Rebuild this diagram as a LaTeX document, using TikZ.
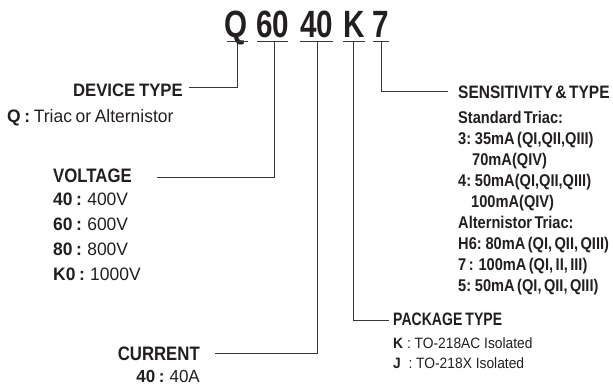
\documentclass[tikz,border=0pt]{standalone}
\usepackage{fontspec}
\setmainfont{Liberation Sans}
\newfontfamily\fA{Liberation Sans}[FakeStretch=0.93, WordSpace=0.8]
\newfontfamily\fB{Liberation Sans}[FakeStretch=0.86, WordSpace=0.6]
\newfontfamily\fC{Liberation Sans}[FakeStretch=0.78, WordSpace=0.8]
\newfontfamily\fD{Liberation Sans}[FakeStretch=0.92]
\newfontfamily\fE{Liberation Sans}[FakeStretch=0.97, WordSpace=0.75]
\definecolor{ink}{HTML}{231F20}
\begin{document}
\begin{tikzpicture}[x=1pt,y=-1pt,
  every node/.style={inner sep=0pt, text=ink},
  conn/.style={draw=ink!90, line width=0.8pt},
  ttlf/.style={font={\fC\bfseries\fontsize{38}{38}\selectfont}, anchor=base},
  bighead/.style={font={\fB\bfseries\fontsize{19.5}{19.5}\selectfont}},
  vitem/.style={font={\fE\fontsize{18}{18}\selectfont}},
  sitem/.style={font={\fB\bfseries\fontsize{17}{17}\selectfont}, anchor=base west},
  pitem/.style={font={\fD\fontsize{15}{15}\selectfont}, anchor=base west}]
\useasboundingbox (0,0) rectangle (613,388);
% title
\node[ttlf] (tQ) at (236.5,37) {Q};
\node[ttlf] (t60) at (272.5,37) {60};
\node[ttlf] (t40) at (316.5,37) {40};
\node[ttlf] (tK) at (354,37) {K};
\node[ttlf] (t7) at (381,37) {7};
\draw[conn] (227,41) -- (248,41);
\draw[conn] (257,41) -- (288,41);
\draw[conn] (300,41) -- (333,41);
\draw[conn] (343,41) -- (365,41);
\draw[conn] (373,41) -- (389,41);
\coordinate (uQ) at (237,41);
\coordinate (u60) at (274,41);
\coordinate (u40) at (317,41);
\coordinate (uK) at (353,41);
\coordinate (u7) at (381,41);
% device type
\node[font={\fA\bfseries\fontsize{18}{18}\selectfont}, anchor=base east] (dev) at (183,96) {DEVICE TYPE};
\node[vitem, anchor=base west] (devq) at (7,122) {\bfseries Q :\mdseries{} Triac or Alternistor};
% voltage
\node[bighead, anchor=base west] (volt) at (53,182) {VOLTAGE};
\node[vitem, anchor=base west] (v1) at (53,205) {\bfseries 40 :\mdseries{} 400V};
\node[vitem, anchor=base west] (v2) at (53,230) {\bfseries 60 :\mdseries{} 600V};
\node[vitem, anchor=base west] (v3) at (53,255) {\bfseries 80 :\mdseries{} 800V};
\node[vitem, anchor=base west] (v4) at (53,280) {\bfseries K0 :\mdseries{} 1000V};
% current
\node[bighead, anchor=base east] (cur) at (200,360) {CURRENT};
\node[vitem, font={\fE\fontsize{17.5}{17.5}\selectfont}, anchor=base east] (c1) at (200,382) {\bfseries 40 :\mdseries{} 40A};
% sensitivity
\node[font={\fB\bfseries\fontsize{18}{18}\selectfont}, anchor=base west] (sens) at (458,98) {SENSITIVITY \& TYPE};
\node[sitem] (s1) at (458,123) {Standard Triac:};
\node[sitem] (s2) at (458,144) {3: 35mA (QI,QII,QIII)};
\node[sitem] (s3) at (472,165) {70mA(QIV)};
\node[sitem] (s4) at (458,186) {4: 50mA(QI,QII,QIII)};
\node[sitem] (s5) at (471,207) {100mA(QIV)};
\node[sitem] (s6) at (458,228) {Alternistor Triac:};
\node[sitem] (s7) at (458,249) {H6: 80mA (QI, QII, QIII)};
\node[sitem] (s8) at (458,270) {7 :\ \ 100mA (QI, II, III)};
\node[sitem] (s9) at (458,291) {5: 50mA (QI, QII, QIII)};
% package
\node[font={\fC\bfseries\fontsize{18}{18}\selectfont}, anchor=base west] (pkg) at (393,325) {PACKAGE TYPE};
\node[pitem] (p1) at (393,348) {\bfseries K\mdseries{} : TO-218AC Isolated};
\node[pitem] (p2) at (393,368) {\bfseries J\mdseries{}\ \ : TO-218X Isolated};
% connectors
\draw[conn] (uQ) |- ([xshift=6pt,yshift=2.5pt]dev.east);
\draw[conn] (u60) |- ([xshift=25pt,yshift=-2pt]volt.east);
\draw[conn] (u40) |- ([xshift=15pt]cur.east);
\draw[conn] (uK) |- ([xshift=-4pt,yshift=-2pt]pkg.west);
\draw[conn] (u7) |- ([xshift=-10pt]sens.west);
\end{tikzpicture}
\end{document}
